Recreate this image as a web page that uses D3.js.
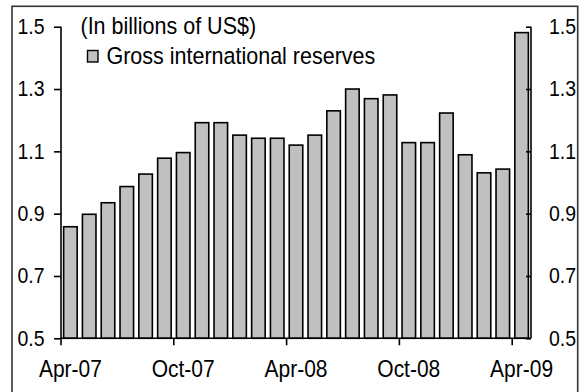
<!DOCTYPE html>
<html><head><meta charset="utf-8">
<script src="https://cdn.jsdelivr.net/npm/d3@7"></script>
<style>body{margin:0;background:#fff}svg{display:block}text{font-family:"Liberation Sans",Arial,sans-serif;fill:#000;transform-box:fill-box;transform-origin:center;transform:scaleY(1.1)}</style>
</head><body><svg id="c" width="584" height="392"></svg>
<script>
const months = ["Apr-07","May-07","Jun-07","Jul-07","Aug-07","Sep-07","Oct-07","Nov-07","Dec-07","Jan-08","Feb-08","Mar-08","Apr-08","May-08","Jun-08","Jul-08","Aug-08","Sep-08","Oct-08","Nov-08","Dec-08","Jan-09","Feb-09","Mar-09","Apr-09"];
const reserves = [0.858,0.898,0.935,0.987,1.027,1.078,1.096,1.192,1.192,1.152,1.142,1.142,1.120,1.152,1.230,1.300,1.269,1.281,1.128,1.128,1.223,1.089,1.031,1.043,1.481];
const xTickLabels = ["Apr-07","Oct-07","Apr-08","Oct-08","Apr-09"];
const yTicks = [0.5,0.7,0.9,1.1,1.3,1.5];
const unitLabel = "(In billions of US$)";
const seriesName = "Gross international reserves";

const svg = d3.select("#c");
const L = 61, R = 531, T = 26.7, B = 338.3;
const x = d3.scaleBand().domain(months).range([L, R]).paddingInner(0.28).paddingOuter(0.14);
const y = d3.scaleLinear().domain([0.5, 1.5]).range([B, T]);

// outer frame
svg.append("rect").attr("x", 12).attr("y", 6.3).attr("width", 565.7).attr("height", 390)
  .attr("fill", "none").attr("stroke", "#333").attr("stroke-width", 1.6);

// bars
svg.append("g").selectAll("rect").data(reserves).join("rect")
  .attr("x", (d, i) => x(months[i]))
  .attr("y", d => y(d))
  .attr("width", x.bandwidth())
  .attr("height", d => y(0.5) - y(d))
  .attr("fill", "#c0c0c0").attr("stroke", "#000").attr("stroke-width", 1.6);

const fsY = 19.5, fsX = 21, fsT = 21.5;
// left axis
const gl = svg.append("g").attr("transform", `translate(${L},0)`)
  .call(d3.axisLeft(y).tickValues(yTicks).tickFormat(d3.format(".1f")).tickSize(7).tickPadding(9.5));
// right axis
const gr = svg.append("g").attr("transform", `translate(${R},0)`)
  .call(d3.axisRight(y).tickValues(yTicks).tickFormat(d3.format(".1f")).tickSize(-5).tickPadding(18));
// bottom axis
const half = x.step() / 2;
const gb = svg.append("g").attr("transform", `translate(0,${B})`)
  .call(d3.axisBottom(x).tickValues(xTickLabels).tickSize(7).tickPadding(16));
gb.selectAll(".tick line").attr("x1", -half).attr("x2", -half);
for (const g of [gl, gr, gb]) {
  g.select(".domain").attr("stroke", "#000").attr("stroke-width", 1.6);
  g.selectAll(".tick line").attr("stroke", "#000").attr("stroke-width", 1.6);
  g.selectAll(".tick text").attr("font-family", "Liberation Sans, Arial, sans-serif").attr("fill", "#000");
}
gl.selectAll(".tick text").attr("font-size", fsY);
gr.selectAll(".tick text").attr("font-size", fsY);
gb.selectAll(".tick text").attr("font-size", fsX);
gl.select(".domain").attr("d", `M0,${T}V${B}`);
gr.select(".domain").attr("d", `M0,${T}V${B}`);
gb.select(".domain").attr("d", `M${L},0H${R}`);

// unit label
svg.append("text").attr("x", 80.5).attr("y", 33.5).attr("font-size", fsT).text(unitLabel);
// legend
svg.append("rect").attr("x", 87.5).attr("y", 50.5).attr("width", 10.5).attr("height", 11.5)
  .attr("fill", "#c0c0c0").attr("stroke", "#000").attr("stroke-width", 1.4);
svg.append("text").attr("x", 106.5).attr("y", 63.5).attr("font-size", fsT).text(seriesName);
</script></body></html>
